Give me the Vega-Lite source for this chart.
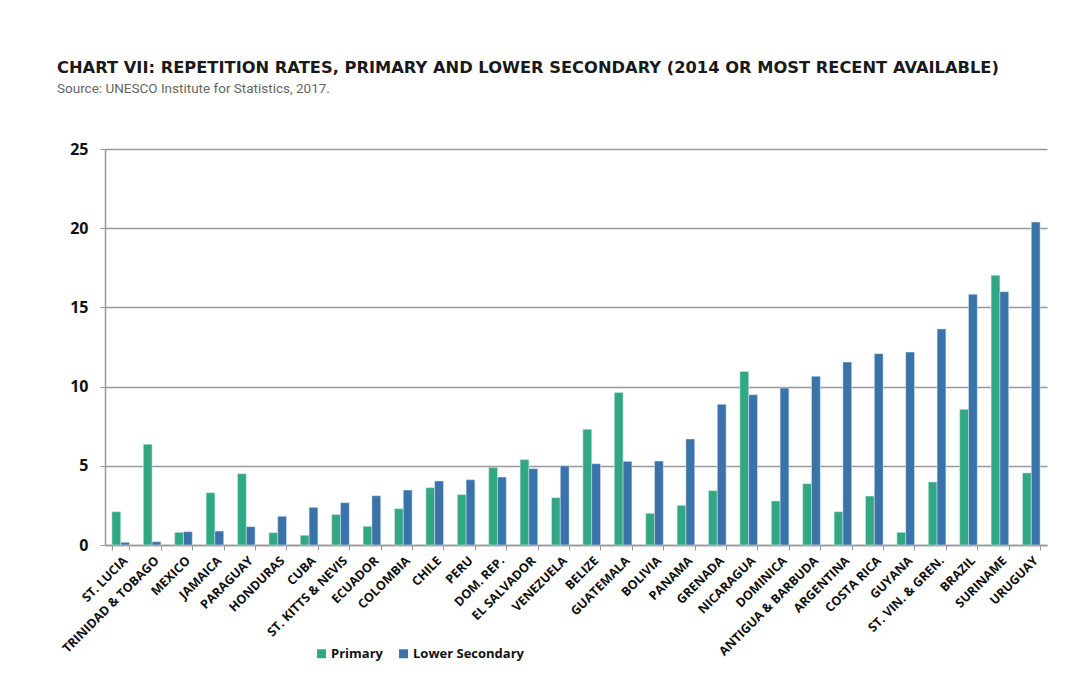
{
  "$schema": "https://vega.github.io/schema/vega-lite/v6.json",
  "autosize": {"type": "none"},
  "width": 942,
  "height": 396,
  "padding": {"left": 105, "top": 149, "right": 35, "bottom": 149},
  "background": "#ffffff",
  "title": {
    "text": "CHART VII: REPETITION RATES, PRIMARY AND LOWER SECONDARY (2014 OR MOST RECENT AVAILABLE)",
    "subtitle": "Source: UNESCO Institute for Statistics, 2017.",
    "anchor": "start",
    "frame": "group",
    "dx": -48,
    "offset": 46,
    "font": "DejaVu Sans",
    "fontSize": 16.3,
    "fontWeight": "bold",
    "color": "#1a1a1a",
    "subtitleFont": "Roboto",
    "subtitleFontSize": 13.5,
    "subtitleColor": "#666666",
    "subtitlePadding": 5
  },
  "data": {
    "values": [
      {"country": "ST. LUCIA", "level": "Primary", "rate": 2.1},
      {"country": "ST. LUCIA", "level": "Lower Secondary", "rate": 0.17},
      {"country": "TRINIDAD & TOBAGO", "level": "Primary", "rate": 6.36},
      {"country": "TRINIDAD & TOBAGO", "level": "Lower Secondary", "rate": 0.21},
      {"country": "MEXICO", "level": "Primary", "rate": 0.8},
      {"country": "MEXICO", "level": "Lower Secondary", "rate": 0.84},
      {"country": "JAMAICA", "level": "Primary", "rate": 3.3},
      {"country": "JAMAICA", "level": "Lower Secondary", "rate": 0.88},
      {"country": "PARAGUAY", "level": "Primary", "rate": 4.5},
      {"country": "PARAGUAY", "level": "Lower Secondary", "rate": 1.16},
      {"country": "HONDURAS", "level": "Primary", "rate": 0.78},
      {"country": "HONDURAS", "level": "Lower Secondary", "rate": 1.81},
      {"country": "CUBA", "level": "Primary", "rate": 0.61},
      {"country": "CUBA", "level": "Lower Secondary", "rate": 2.38},
      {"country": "ST. KITTS & NEVIS", "level": "Primary", "rate": 1.93},
      {"country": "ST. KITTS & NEVIS", "level": "Lower Secondary", "rate": 2.67},
      {"country": "ECUADOR", "level": "Primary", "rate": 1.18},
      {"country": "ECUADOR", "level": "Lower Secondary", "rate": 3.11},
      {"country": "COLOMBIA", "level": "Primary", "rate": 2.29},
      {"country": "COLOMBIA", "level": "Lower Secondary", "rate": 3.47},
      {"country": "CHILE", "level": "Primary", "rate": 3.62},
      {"country": "CHILE", "level": "Lower Secondary", "rate": 4.04},
      {"country": "PERU", "level": "Primary", "rate": 3.18},
      {"country": "PERU", "level": "Lower Secondary", "rate": 4.12},
      {"country": "DOM. REP.", "level": "Primary", "rate": 4.9},
      {"country": "DOM. REP.", "level": "Lower Secondary", "rate": 4.29},
      {"country": "EL SALVADOR", "level": "Primary", "rate": 5.39},
      {"country": "EL SALVADOR", "level": "Lower Secondary", "rate": 4.82},
      {"country": "VENEZUELA", "level": "Primary", "rate": 2.99},
      {"country": "VENEZUELA", "level": "Lower Secondary", "rate": 5.0},
      {"country": "BELIZE", "level": "Primary", "rate": 7.3},
      {"country": "BELIZE", "level": "Lower Secondary", "rate": 5.13},
      {"country": "GUATEMALA", "level": "Primary", "rate": 9.62},
      {"country": "GUATEMALA", "level": "Lower Secondary", "rate": 5.28},
      {"country": "BOLIVIA", "level": "Primary", "rate": 2.0},
      {"country": "BOLIVIA", "level": "Lower Secondary", "rate": 5.3},
      {"country": "PANAMA", "level": "Primary", "rate": 2.5},
      {"country": "PANAMA", "level": "Lower Secondary", "rate": 6.69},
      {"country": "GRENADA", "level": "Primary", "rate": 3.43},
      {"country": "GRENADA", "level": "Lower Secondary", "rate": 8.88},
      {"country": "NICARAGUA", "level": "Primary", "rate": 10.96},
      {"country": "NICARAGUA", "level": "Lower Secondary", "rate": 9.49},
      {"country": "DOMINICA", "level": "Primary", "rate": 2.78},
      {"country": "DOMINICA", "level": "Lower Secondary", "rate": 9.91},
      {"country": "ANTIGUA & BARBUDA", "level": "Primary", "rate": 3.87},
      {"country": "ANTIGUA & BARBUDA", "level": "Lower Secondary", "rate": 10.65},
      {"country": "ARGENTINA", "level": "Primary", "rate": 2.1},
      {"country": "ARGENTINA", "level": "Lower Secondary", "rate": 11.55},
      {"country": "COSTA RICA", "level": "Primary", "rate": 3.09},
      {"country": "COSTA RICA", "level": "Lower Secondary", "rate": 12.08},
      {"country": "GUYANA", "level": "Primary", "rate": 0.8},
      {"country": "GUYANA", "level": "Lower Secondary", "rate": 12.18},
      {"country": "ST. VIN. & GREN.", "level": "Primary", "rate": 3.98},
      {"country": "ST. VIN. & GREN.", "level": "Lower Secondary", "rate": 13.64},
      {"country": "BRAZIL", "level": "Primary", "rate": 8.57},
      {"country": "BRAZIL", "level": "Lower Secondary", "rate": 15.83},
      {"country": "SURINAME", "level": "Primary", "rate": 17.03},
      {"country": "SURINAME", "level": "Lower Secondary", "rate": 15.99},
      {"country": "URUGUAY", "level": "Primary", "rate": 4.55},
      {"country": "URUGUAY", "level": "Lower Secondary", "rate": 20.39}
    ]
  },
  "mark": {"type": "bar", "stroke": "#dde8f0", "strokeWidth": 0.5},
  "encoding": {
    "x": {
      "field": "country",
      "type": "nominal",
      "sort": null,
      "title": null,
      "scale": {"paddingInner": 0.44, "paddingOuter": 0.22},
      "axis": {
        "labelAngle": -45,
        "labelAlign": "right",
        "labelBaseline": "top",
        "labelFont": "Open Sans",
        "labelFontWeight": "bold",
        "labelFontSize": 12.5,
        "labelColor": "#111111",
        "labelPadding": 4,
        "labelOverlap": false,
        "labelLimit": 200,
        "domainColor": "#999999",
        "domainWidth": 1.5,
        "tickColor": "#999999",
        "tickWidth": 1,
        "tickSize": 5,
        "tickBand": "extent"
      }
    },
    "xOffset": {"field": "level", "type": "nominal", "sort": ["Primary", "Lower Secondary"]},
    "y": {
      "field": "rate",
      "type": "quantitative",
      "title": null,
      "scale": {"domain": [0, 25], "nice": false},
      "axis": {
        "values": [0, 5, 10, 15, 20, 25],
        "labelFont": "Open Sans",
        "labelFontWeight": "bold",
        "labelFontSize": 16,
        "labelColor": "#111111",
        "labelPadding": 12,
        "grid": true,
        "gridColor": "#999999",
        "gridWidth": 1.5,
        "domainColor": "#999999",
        "domainWidth": 1.5,
        "tickColor": "#999999",
        "tickSize": 5
      }
    },
    "color": {
      "field": "level",
      "type": "nominal",
      "sort": ["Primary", "Lower Secondary"],
      "scale": {"domain": ["Primary", "Lower Secondary"], "range": ["#31a883", "#3a72aa"]},
      "legend": {
        "title": null,
        "orient": "none",
        "direction": "horizontal",
        "legendX": 210,
        "legendY": 498,
        "symbolType": "square",
        "symbolSize": 80,
        "symbolStrokeWidth": 0,
        "labelFont": "Open Sans",
        "labelFontWeight": "bold",
        "labelFontSize": 13,
        "labelOffset": 3,
        "labelColor": "#111111",
        "columnPadding": 14
      }
    }
  },
  "config": {"view": {"stroke": null}}
}
